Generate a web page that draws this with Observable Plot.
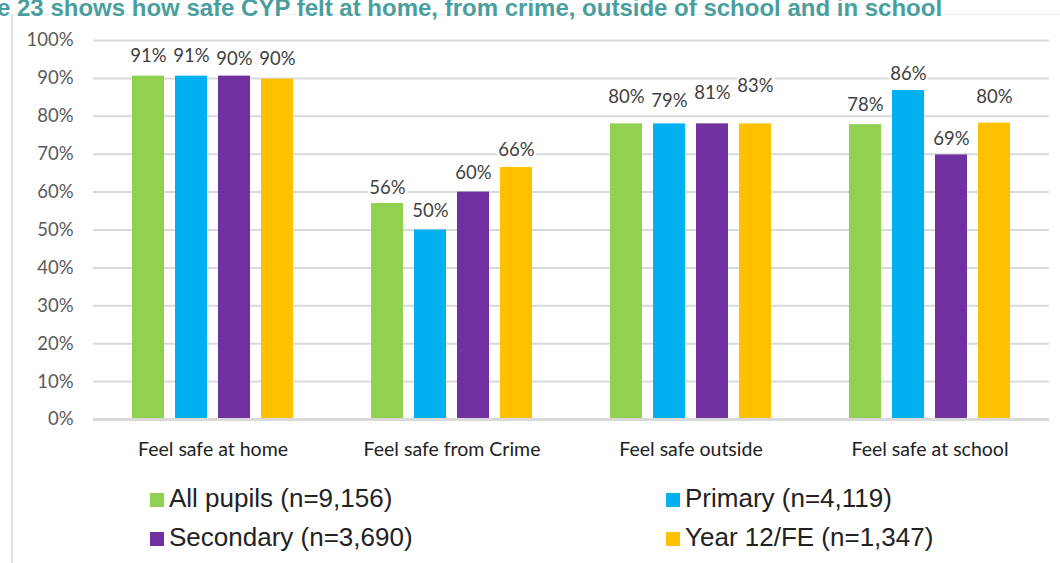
<!DOCTYPE html>
<html><head><meta charset="utf-8">
<script src="https://cdn.jsdelivr.net/npm/d3@7"></script>
<script src="https://cdn.jsdelivr.net/npm/@observablehq/plot@0.6"></script>
<style>
body{margin:0;background:#fff;width:1060px;height:563px;overflow:hidden;position:relative;font-family:Lato,sans-serif}
#title{position:absolute;left:-3px;top:-6px;font:bold 24px "Liberation Sans",Arial,sans-serif;color:#4a9e9e;white-space:nowrap;z-index:3}
#frame{position:absolute;left:11px;top:14px;width:1100px;height:600px;border-left:2px solid #e2e2e2;border-top:1px solid #ececec;box-sizing:border-box}
#chart{position:absolute;left:0;top:0;z-index:1}
.leg{position:absolute;font:26px "Liberation Sans",Arial,sans-serif;color:#222;white-space:nowrap;z-index:2;line-height:30px}
.leg span.sw{display:inline-block;width:14px;height:14px;margin-right:5px;vertical-align:0px}
</style></head>
<body>
<div id="title">e 23 shows how safe CYP felt at home, from crime, outside of school and in school</div>
<div id="frame"></div>
<div id="chart"></div>
<div id="legend"></div>
<script>
const categories = ["Feel safe at home", "Feel safe from Crime", "Feel safe outside", "Feel safe at school"];
const groups = ["All pupils (n=9,156)", "Primary (n=4,119)", "Secondary (n=3,690)", "Year 12/FE (n=1,347)"];
const colors = ["#92d050", "#00b0f0", "#7030a0", "#ffc000"];
// bar heights as drawn
const allPupils = [90.6, 57, 78, 77.8];
const primary = [90.6, 50, 78, 86.8];
const secondary = [90.6, 60, 78, 69.8];
const year12 = [89.8, 66.5, 78, 78.2];
// printed data labels
const allPupilsLabels = [91, 56, 80, 78];
const primaryLabels = [91, 50, 79, 86];
const secondaryLabels = [90, 60, 81, 69];
const year12Labels = [90, 66, 83, 80];
const yTicks = [0, 10, 20, 30, 40, 50, 60, 70, 80, 90, 100];

const series = [allPupils, primary, secondary, year12];
const seriesLabels = [allPupilsLabels, primaryLabels, secondaryLabels, year12Labels];
const rows = [];
categories.forEach((c, ci) => groups.forEach((g, gi) => {
  rows.push({category: c, group: g, value: series[gi][ci], label: seriesLabels[gi][ci]});
}));

const chart = Plot.plot({
  width: 1060, height: 470,
  marginLeft: 91, marginRight: 10, marginTop: 40, marginBottom: 51,
  style: {background: "transparent", fontFamily: "Lato, sans-serif"},
  fx: {domain: categories, padding: 0, label: null},
  x: {domain: groups, paddingInner: 0.25, paddingOuter: 0.852, axis: null},
  y: {domain: [0, 100], axis: null},
  color: {domain: groups, range: colors},
  marks: [
    Plot.ruleY(yTicks.filter(d => d > 0), {stroke: "#d9d9d9", strokeWidth: 2}),
    Plot.barY(rows, {fx: "category", x: "group", y: "value", fill: "group"}),
    Plot.ruleY([0], {stroke: "#d9d9d9", strokeWidth: 3}),
    Plot.text(rows, {fx: "category", x: "group", y: "label", text: d => d.label + "%", dy: -19,
      fontSize: 18.5, fill: "#404040", stroke: "white", strokeWidth: 5, paintOrder: "stroke"}),
    Plot.axisY(yTicks, {tickSize: 0, tickPadding: 20, tickFormat: d => d + "%", fontSize: 18.5, fill: "#595959", label: null}),
    Plot.axisFx({anchor: "bottom", tickSize: 0, tickPadding: 23, fontSize: 19.5, fill: "#222", label: null})
  ]
});
document.getElementById("chart").appendChild(chart);

const legendPos = [[150, 483], [666, 483], [150, 522], [666, 522]];
const legend = document.getElementById("legend");
groups.forEach((g, i) => {
  const d = document.createElement("div");
  d.className = "leg";
  d.style.left = legendPos[i][0] + "px";
  d.style.top = legendPos[i][1] + "px";
  d.innerHTML = `<span class="sw" style="background:${colors[i]}"></span>${g}`;
  legend.appendChild(d);
});
</script>
</body></html>
